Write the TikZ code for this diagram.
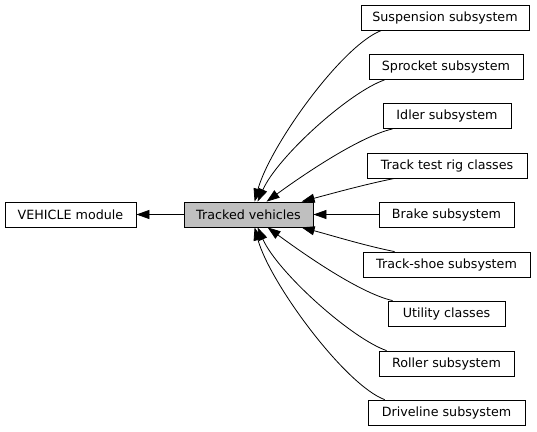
\documentclass[tikz,border=0pt]{standalone}
\usepackage{fontspec}
\setmainfont{DejaVu Sans}
\usetikzlibrary{arrows.meta}
\definecolor{cgrey}{HTML}{BFBFBF}
\tikzset{
  every picture/.style={line width=0.8pt},
  box/.style={draw, fill=white, minimum width=#1, minimum height=25pt, inner sep=0pt,
    font=\fontsize{12.7}{15}\selectfont},
  box/.default=130pt,
  dep/.style={-{Triangle[length=13pt,width=9pt]}, draw=black},
}

\begin{document}
\begin{tikzpicture}[x=1pt, y=1pt]
  \useasboundingbox (0,0) rectangle (537,-431);
  % groups
  \node[box=131pt] (veh) at (70.5,-214.5) {VEHICLE module};
  \node[box=129pt, fill=cgrey] (tv) at (248.5,-214.5) {Tracked vehicles};
  \node[box=168pt] (susp) at (445,-17.5) {Suspension subsystem};
  \node[box=154pt] (spr) at (446,-67) {Sprocket subsystem};
  \node[box=128pt] (idl) at (447,-116) {Idler subsystem};
  \node[box=160pt] (trig) at (447,-165.5) {Track test rig classes};
  \node[box=135pt] (brk) at (446.5,-214.5) {Brake subsystem};
  \node[box=167pt] (tsh) at (446.5,-264.5) {Track-shoe subsystem};
  \node[box=117pt] (util) at (446.5,-313.5) {Utility classes};
  \node[box=135pt] (roll) at (446.5,-363.5) {Roller subsystem};
  \node[box=157pt] (drv) at (446.5,-412.5) {Driveline subsystem};
  % dependencies
  \draw[dep] (tv.west) -- (veh.east);
  \draw[dep] ([xshift=21pt]susp.south west) .. controls +(-40,-15) and +(15,55) .. ([xshift=71pt]tv.north west);
  \draw[dep] ([xshift=16pt]spr.south west) .. controls +(-35,-12) and +(20,45) .. ([xshift=74pt]tv.north west);
  \draw[dep] ([xshift=10pt]idl.south west) .. controls +(-35,-8) and +(30,22) .. ([xshift=83pt]tv.north west);
  \draw[dep] ([xshift=28pt]trig.south west) .. controls +(-30,-6) and +(30,8) .. ([xshift=118pt]tv.north west);
  \draw[dep] (brk.west) -- (tv.east);
  \draw[dep] ([xshift=32pt]tsh.north west) .. controls +(-30,6) and +(30,-8) .. ([xshift=118pt]tv.south west);
  \draw[dep] ([xshift=5pt]util.north west) .. controls +(-35,8) and +(30,-22) .. ([xshift=84pt]tv.south west);
  \draw[dep] ([xshift=8pt]roll.north west) .. controls +(-35,12) and +(20,-45) .. ([xshift=74pt]tv.south west);
  \draw[dep] ([xshift=17pt]drv.north west) .. controls +(-40,15) and +(15,-55) .. ([xshift=71pt]tv.south west);
\end{tikzpicture}
\end{document}
